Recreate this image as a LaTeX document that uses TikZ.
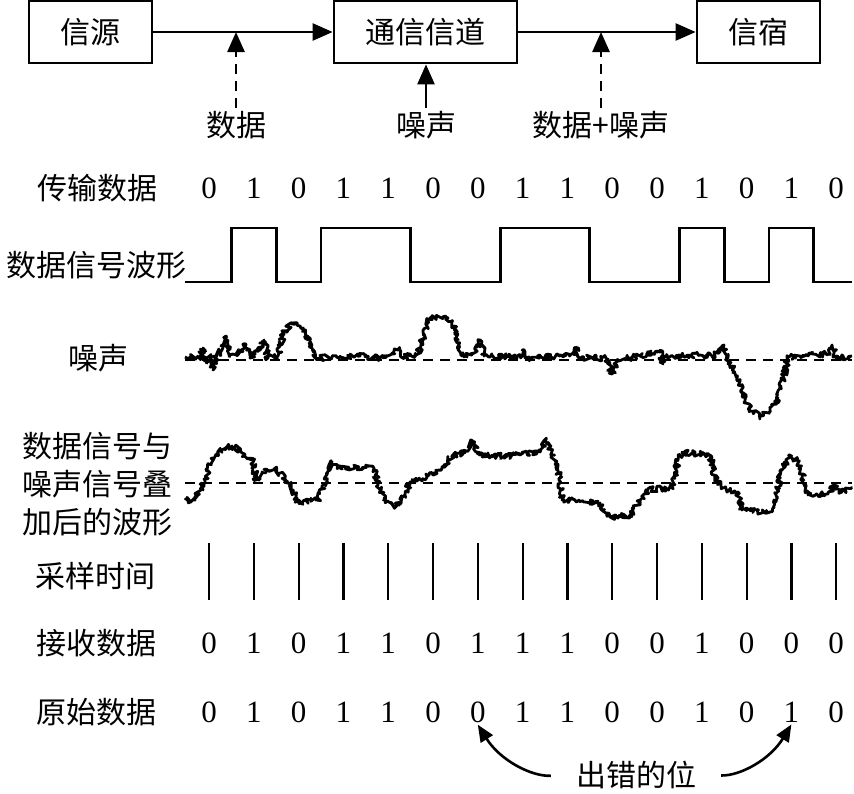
\documentclass[tikz,border=0pt]{standalone}
\usepackage{fontspec}
\setmainfont{Liberation Serif}
\newfontfamily\cjk{Noto Sans CJK SC}
\usetikzlibrary{arrows.meta,decorations.pathmorphing}

\tikzset{
  box/.style={draw, line width=2.8pt, minimum height=62pt, inner sep=0pt,
    font=\cjk\fontsize{30}{34}\selectfont},
  txt/.style={inner sep=3pt, font=\cjk\fontsize{30}{38}\selectfont},
  bit/.style={inner sep=2pt, font=\fontsize{31}{34}\selectfont},
  flow/.style={line width=2.6pt, -{Triangle[length=20pt,width=17pt]}},
  tapflow/.style={flow, dash pattern=on 10pt off 7pt},
  errflow/.style={line width=2.6pt, -{Triangle[length=17pt,width=14pt]}},
  wave/.style={line width=2.8pt, line join=miter},
  noisy/.style={line width=2.8pt, line join=round, decorate,
    decoration={random steps, segment length=1.3pt, amplitude=3pt}},
  zeroline/.style={line width=2.4pt, dash pattern=on 10pt off 7pt},
  tick/.style={line width=2.2pt}
}

\begin{document}
\begin{tikzpicture}[x=1pt,y=-1pt]
    \useasboundingbox (0,0) rectangle (854,793);
    \pgfmathsetseed{17}

    % Source, channel and sink
    \node[box, minimum width=123pt] (src) at (90.5,32) {信源};
    \node[box, minimum width=183pt] (chan) at (425.5,32) {通信信道};
    \node[box, minimum width=123pt] (sink) at (758.5,32) {信宿};
    \draw[flow] (src) -- (chan);
    \draw[flow] (chan) -- (sink);

    \node[txt] (datalbl) at (236,125) {数据};
    \node[txt] (noiselbl) at (426,125) {噪声};
    \node[txt] (mixlbl) at (601,125) {数据+噪声};
    \draw[tapflow] (datalbl.north) -- (datalbl.north |- src.east);
    \draw[flow] (noiselbl.north) -- (noiselbl.north |- chan.south);
    \draw[tapflow] (mixlbl.north) -- (mixlbl.north |- sink.west);

    % Row labels
    \node[txt] (txlbl) at (97,188) {传输数据};
    \node[txt] (wavelbl) at (96,265) {数据信号波形};
    \node[txt] (noiserow) at (98,358) {噪声};
    \node[txt, align=center] (mixrow) at (97,484) {数据信号与\\噪声信号叠\\加后的波形};
    \node[txt] (samplbl) at (95,576) {采样时间};
    \node[txt] (rxlbl) at (96,643) {接收数据};
    \node[txt] (orglbl) at (96,712) {原始数据};

    % Bit rows
    \foreach \b [count=\i from 0] in {0,1,0,1,1,0,0,1,1,0,0,1,0,1,0}
        \node[bit] (tx\i) at (209+44.8*\i,188) {\b};
    \foreach \b [count=\i from 0] in {0,1,0,1,1,0,1,1,1,0,0,1,0,0,0}
        \node[bit] (rx\i) at (209+44.8*\i,643) {\b};
    \foreach \b [count=\i from 0] in {0,1,0,1,1,0,0,1,1,0,0,1,0,1,0}
        \node[bit] (org\i) at (209+44.8*\i,712) {\b};

    % Data signal
    \draw[wave] (185,282) -- (231.4,282) -- (231.4,228) -- (276.2,228)
        -- (276.2,282) -- (321,282) -- (321,228) -- (410.6,228) -- (410.6,282)
        -- (500.2,282) -- (500.2,228) -- (589.8,228) -- (589.8,282)
        -- (679.4,282) -- (679.4,228) -- (724.2,228) -- (724.2,282)
        -- (769,282) -- (769,228) -- (813.8,228) -- (813.8,282) -- (852,282);

    % Noise
    \draw[zeroline] (185,360) -- (852,360);
    \draw[noisy] (185,357) -- (200,357) -- (203,348) -- (206,362) -- (210,356)
        -- (213,370) -- (216,356) -- (222,350) -- (226,336) -- (229,356)
        -- (240,352) -- (246,345) -- (250,358) -- (260,350) -- (264,340)
        -- (268,358) -- (278,356) -- (284,332) -- (292,324) -- (300,326)
        -- (306,335) -- (312,348) -- (316,358) -- (340,357) -- (360,356)
        -- (380,358) -- (398,350) -- (404,357) -- (418,354) -- (424,334)
        -- (430,318) -- (448,318) -- (456,330) -- (460,352) -- (464,357)
        -- (476,352) -- (480,340) -- (484,356) -- (520,357) -- (524,350)
        -- (528,358) -- (570,356) -- (576,348) -- (580,358) -- (606,358)
        -- (612,374) -- (617,360) -- (640,356) -- (660,352) -- (663,364)
        -- (666,356) -- (700,355) -- (712,356) -- (720,352) -- (724,345)
        -- (728,358) -- (734,372) -- (742,392) -- (750,410) -- (760,416)
        -- (770,410) -- (778,398) -- (784,375) -- (788,357) -- (800,356)
        -- (828,354) -- (832,345) -- (836,358) -- (852,356);

    % Signal plus noise
    \draw[zeroline] (185,483) -- (852,483);
    \draw[noisy] (185,500) -- (195,500) -- (205,480) -- (212,458) -- (220,450)
        -- (232,446) -- (245,455) -- (253,460) -- (256,480) -- (262,472)
        -- (275,468) -- (285,478) -- (293,490) -- (298,502) -- (318,500)
        -- (325,485) -- (330,462) -- (340,468) -- (374,468) -- (378,485)
        -- (384,500) -- (395,506) -- (405,495) -- (410,482) -- (428,476)
        -- (440,470) -- (452,456) -- (465,452) -- (472,440) -- (480,455)
        -- (500,456) -- (520,455) -- (540,452) -- (546,440) -- (552,455)
        -- (558,470) -- (562,500) -- (600,503) -- (610,517) -- (630,515)
        -- (640,500) -- (648,490) -- (672,488) -- (678,460) -- (682,452)
        -- (710,455) -- (716,480) -- (722,488) -- (738,492) -- (742,510)
        -- (770,512) -- (776,495) -- (782,470) -- (790,455) -- (798,462)
        -- (804,480) -- (808,495) -- (828,494) -- (834,485) -- (842,492)
        -- (852,488);

    % Sampling instants
    \foreach \i in {0,...,14}
        \draw[tick] (209+44.8*\i,543) -- (209+44.8*\i,600);

    % Wrong bits
    \node[txt] (errlbl) at (636,775) {出错的位};
    \draw[errflow, shorten <=22pt] (errlbl.west) to[bend left=30] (org6.south);
    \draw[errflow, shorten <=22pt] (errlbl.east) to[bend right=30] (org13.south);
\end{tikzpicture}
\end{document}
